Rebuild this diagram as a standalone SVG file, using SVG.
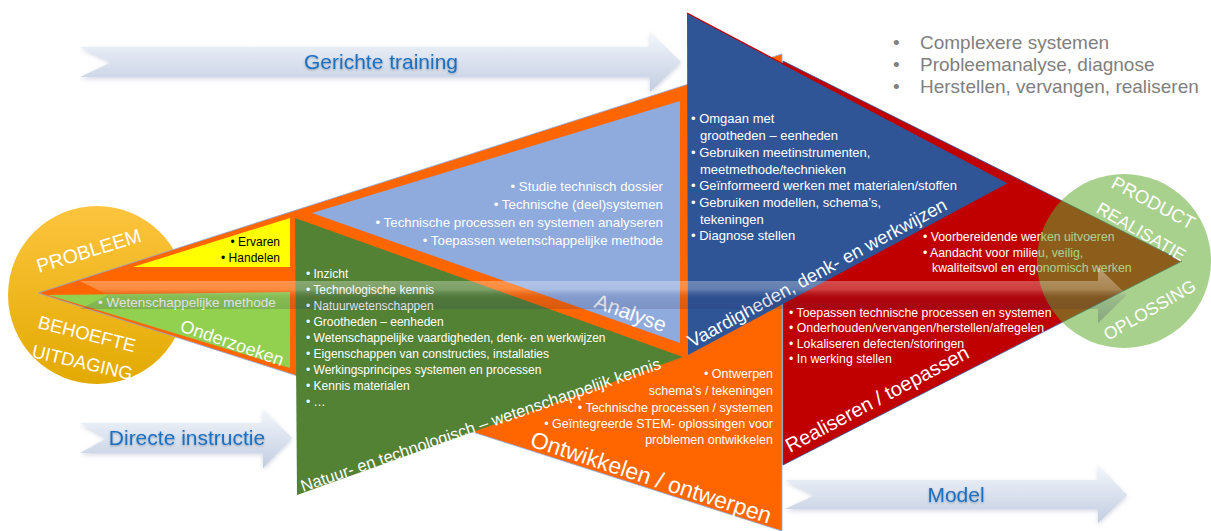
<svg xmlns="http://www.w3.org/2000/svg" width="1211" height="531" viewBox="0 0 1211 531">
<defs>
  <linearGradient id="gArrow" x1="0" y1="0" x2="0" y2="1">
    <stop offset="0" stop-color="#f4f7fb"/>
    <stop offset="0.45" stop-color="#dde4f0"/>
    <stop offset="1" stop-color="#c2cde1"/>
  </linearGradient>
  <linearGradient id="gBand" x1="0" y1="0" x2="0" y2="1">
    <stop offset="0" stop-color="#ffffff" stop-opacity="0.4"/>
    <stop offset="0.4" stop-color="#ffffff" stop-opacity="0.24"/>
    <stop offset="0.55" stop-color="#28285a" stop-opacity="0.12"/>
    <stop offset="1" stop-color="#28285a" stop-opacity="0.26"/>
  </linearGradient>
  <linearGradient id="gGold" x1="0" y1="0" x2="0" y2="1">
    <stop offset="0" stop-color="#fdc43f"/>
    <stop offset="1" stop-color="#e2aa00"/>
  </linearGradient>
  <filter id="sh" x="-5%" y="-30%" width="110%" height="170%">
    <feDropShadow dx="0" dy="2" stdDeviation="2" flood-color="#7f8fb0" flood-opacity="0.35"/>
  </filter>
  <filter id="tsh" x="-10%" y="-30%" width="120%" height="170%">
    <feDropShadow dx="0" dy="1" stdDeviation="1" flood-color="#000" flood-opacity="0.3"/>
  </filter>
</defs>
<style>
  text { font-family: "Liberation Sans", Arial, sans-serif; }
  .w { fill: #ffffff; }
  .k { fill: #000000; }
  .s12 { font-size: 12px; }
  .s12r { font-size: 12.3px; }
  .s125 { font-size: 12.5px; }
  .s13 { font-size: 13px; }
  .s133 { font-size: 13.3px; }
  .big { fill: #ffffff; }
  .arr { fill: url(#gArrow); filter: url(#sh); }
  .albl { font-size: 21px; fill: #1c6fc2; text-anchor: middle; filter: url(#tsh); }
  .gray { font-size: 19px; fill: #808080; }
  .end { text-anchor: end; }
</style>

<rect width="1211" height="531" fill="#ffffff"/>

<!-- Left circle -->
<g id="probleem">
  <circle cx="97" cy="295" r="89" fill="url(#gGold)"/>
</g>

<!-- Big orange triangle -->
<g id="hoofdvorm">
  <polygon points="38,293 782,54 782,531" fill="#ff6600" stroke="#8faadc" stroke-width="0.8"/>
</g>

<!-- Yellow -->
<g id="ervaren">
  <polygon points="133,267 290,218 290,267" fill="#ffff00"/>
  <text class="k s12 end" x="280" y="246">• Ervaren</text>
  <text class="k s12 end" x="280" y="262">• Handelen</text>
</g>

<!-- Light green -->
<g id="onderzoeken">
  <polygon points="48,295 290,292 290,368" fill="#92d050"/>
  <text class="w" x="98" y="307" font-size="13.5">• Wetenschappelijke methode</text>
  <text class="big" font-size="18" transform="translate(179,331) rotate(19)">Onderzoeken</text>
</g>

<!-- Light blue -->
<g id="analyse">
  <polygon points="312,213 680,101 680,343" fill="#8faadc"/>
  <text class="w s133 end" x="663" y="191">• Studie technisch dossier</text>
  <text class="w s133 end" x="663" y="209">• Technische (deel)systemen</text>
  <text class="w s133 end" x="663" y="227">• Technische processen en systemen analyseren</text>
  <text class="w s133 end" x="663" y="245">• Toepassen wetenschappelijke methode</text>
  <text class="big" font-size="21" transform="translate(593,307) rotate(20)">Analyse</text>
</g>

<!-- Green -->
<g id="kennis">
  <polygon points="295,218 683,357 297,495" fill="#548235"/>
  <text class="w s12" x="306" y="278">• Inzicht</text>
  <text class="w s12" x="306" y="294">• Technologische kennis</text>
  <text class="w s12" x="306" y="310">• Natuurwetenschappen</text>
  <text class="w s12" x="306" y="326">• Grootheden – eenheden</text>
  <text class="w s12" x="306" y="342">• Wetenschappelijke vaardigheden, denk- en werkwijzen</text>
  <text class="w s12" x="306" y="358">• Eigenschappen van constructies, installaties</text>
  <text class="w s12" x="306" y="374">• Werkingsprincipes systemen en processen</text>
  <text class="w s12" x="306" y="390">• Kennis materialen</text>
  <text class="w s12" x="306" y="406">• …</text>
  <text class="big" font-size="16.5" transform="translate(303,492) rotate(-19)">Natuur- en technologisch – wetenschappelijk kennis</text>
</g>

<!-- Orange bottom texts -->
<g id="ontwikkelen">
  <text class="w s125 end" x="773" y="378">• Ontwerpen</text>
  <text class="w s125 end" x="773" y="395">schema’s / tekeningen</text>
  <text class="w s125 end" x="773" y="411.5">• Technische processen / systemen</text>
  <text class="w s125 end" x="773" y="428">• Geïntegreerde STEM- oplossingen voor</text>
  <text class="w s125 end" x="773" y="444">problemen ontwikkelen</text>
  <text class="big" font-size="23" transform="translate(529,446) rotate(18)">Ontwikkelen / ontwerpen</text>
</g>

<!-- Red -->
<g id="realiseren">
  <polygon points="783,61 1182,261 783,465" fill="#c00000" stroke="#2f5597" stroke-width="0.8"/>
  <text class="w s12r" x="923" y="241">• Voorbereidende werken uitvoeren</text>
  <text class="w s12r" x="923" y="257">• Aandacht voor milieu, veilig,</text>
  <text class="w s12r" x="932" y="272">kwaliteitsvol en ergonomisch werken</text>
  <text class="w s12r" x="789" y="317">• Toepassen technische processen en systemen</text>
  <text class="w s12r" x="789" y="332">• Onderhouden/vervangen/herstellen/afregelen</text>
  <text class="w s12r" x="789" y="347.5">• Lokaliseren defecten/storingen</text>
  <text class="w s12r" x="789" y="363">• In werking stellen</text>
  <text class="big" font-size="20" transform="translate(790,453) rotate(-28)">Realiseren / toepassen</text>
</g>

<!-- Blue -->
<g id="vaardigheden">
  <polygon points="687,13 1008,183 688,355" fill="#2f5597"/>
  <line x1="687" y1="13" x2="1008" y2="183" stroke="#c00000" stroke-width="1.2"/>
  <text class="w s13" x="691" y="123">• Omgaan met</text>
  <text class="w s13" x="700" y="140">grootheden – eenheden</text>
  <text class="w s13" x="691" y="157">• Gebruiken meetinstrumenten,</text>
  <text class="w s13" x="700" y="174">meetmethode/technieken</text>
  <text class="w s13" x="691" y="190">• Geïnformeerd werken met materialen/stoffen</text>
  <text class="w s13" x="691" y="207">• Gebruiken modellen, schema’s,</text>
  <text class="w s13" x="700" y="224">tekeningen</text>
  <text class="w s13" x="691" y="240">• Diagnose stellen</text>
  <text class="big" font-size="18.5" transform="translate(692,348) rotate(-28.5)">Vaardigheden, denk- en werkwijzen</text>
</g>

<!-- Right circle -->
<g id="oplossing">
  <circle cx="1124" cy="261" r="87" fill="#63ab32" fill-opacity="0.55"/>
  <text class="big" font-size="18.5" transform="translate(1110,187) rotate(28)">PRODUCT</text>
  <text class="big" font-size="17.5" transform="translate(1095,212) rotate(30)">REALISATIE</text>
  <text class="big" font-size="17.5" transform="translate(1108,341) rotate(-30)">OPLOSSING</text>
</g>

<!-- Left circle labels -->
<g id="probleem-labels">
  <text class="big" font-size="19.5" transform="translate(39,273) rotate(-17)">PROBLEEM</text>
  <text class="big" font-size="18.5" transform="translate(37,328) rotate(14)">BEHOEFTE</text>
  <text class="big" font-size="18.5" transform="translate(31,357) rotate(13)">UITDAGING</text>
</g>

<!-- Top-right list -->
<g id="kenmerken">
  <text class="gray" x="893" y="49">•</text>
  <text class="gray" x="920" y="49">Complexere systemen</text>
  <text class="gray" x="893" y="71">•</text>
  <text class="gray" x="920" y="71">Probleemanalyse, diagnose</text>
  <text class="gray" x="893" y="93">•</text>
  <text class="gray" x="920" y="93">Herstellen, vervangen, realiseren</text>
</g>

<!-- Arrows -->
<g id="connectors">
  <path class="arr" d="M80,47 L650,47 L650,32 L681,62 L650,92 L650,77 L80,77 L112,62 Z"/>
  <text class="albl" x="381" y="69">Gerichte training</text>
  <path class="arr" d="M80,423 L263,423 L263,409 L292,438 L263,468 L263,453 L80,453 L107,438 Z"/>
  <text class="albl" x="187" y="445">Directe instructie</text>
  <path class="arr" d="M785,480 L1098,480 L1098,465 L1127,495 L1098,523 L1098,509 L785,509 L815,495 Z"/>
  <text class="albl" x="956" y="502">Model</text>
  <path d="M80,281 L1098,281 L1098,267 L1127,295 L1098,323 L1098,309 L80,309 L108,295 Z" fill="url(#gBand)"/>
</g>
</svg>
